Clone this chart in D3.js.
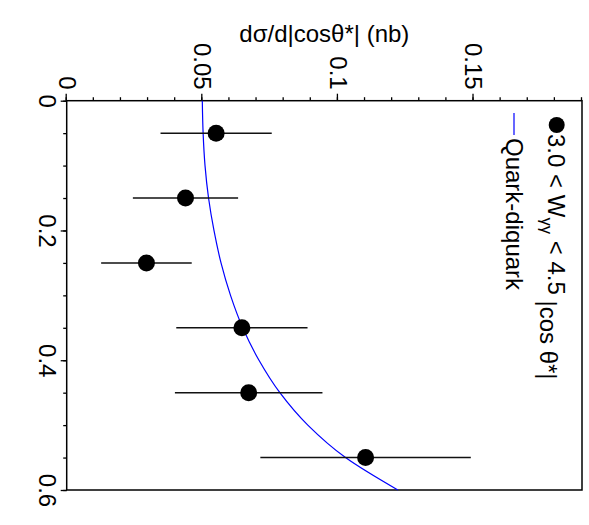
<!DOCTYPE html>
<html>
<head>
<meta charset="utf-8">
<script src="https://cdn.jsdelivr.net/npm/d3@7"></script>
<style>
  body { margin: 0; background: #fff; }
  text { font-family: "Liberation Sans", Arial, sans-serif; }
</style>
</head>
<body>
<div id="chart"></div>
<script>
//************* data ***************/
var cosBins   = [0.05, 0.15, 0.25, 0.35, 0.45, 0.55];
var xsecVals  = [0.0551, 0.0438, 0.0294, 0.0646, 0.0671, 0.1102];
var xsecErrs  = [0.0205, 0.0194, 0.0167, 0.0242, 0.0272, 0.0388];

// quark-diquark curve
var curveCos  = [0, 0.05, 0.1, 0.15, 0.2, 0.25, 0.3, 0.35, 0.4, 0.45, 0.5, 0.55, 0.6];
var curveVals = [0.0500, 0.0503, 0.0510, 0.0523, 0.0543, 0.0569, 0.0604, 0.0649, 0.0709, 0.0786, 0.0889, 0.1028, 0.1221];

var cosTicks  = [0, 0.2, 0.4, 0.6];
var xsecTicks = [0, 0.05, 0.1, 0.15];

//************* set dimensions ***************/
var W = 589, H = 525;
// the whole chart is drawn upright and then turned 90 degrees clockwise
var svg = d3.select("#chart").append("svg")
    .attr("width", W)
    .attr("height", H);

var g = svg.append("g")
    .attr("transform", "translate(" + W + ",0) rotate(90)");

//************* scales ***************/
var x = d3.scaleLinear()   // |cos theta*|
    .domain([0, 0.6])
    .range([100.7, 490]);

var y = d3.scaleLinear()   // dsigma/dcos
    .domain([0, 0.19])
    .range([W - 66.7, W - 582]);

var fs = 24;

//***************** axes *******************/
// minor ticks
g.append("g")
    .attr("transform", "translate(0," + y(0) + ")")
    .call(d3.axisBottom(x).tickValues(d3.range(0, 0.6001, 0.05)).tickSize(3.5).tickFormat(""))
    .call(function(s){ s.select(".domain").remove(); });
g.append("g")
    .attr("transform", "translate(" + x(0) + ",0)")
    .call(d3.axisLeft(y).tickValues(d3.range(0, 0.1901, 0.01)).tickSize(3.5).tickFormat(""))
    .call(function(s){ s.select(".domain").remove(); });

var xAxis = g.append("g")
    .attr("transform", "translate(0," + y(0) + ")")
    .call(d3.axisBottom(x).tickValues(cosTicks).tickSize(6).tickPadding(5)
      .tickFormat(function(d){ return d === 0 ? "0" : d3.format(".1f")(d); }));
xAxis.select(".domain").remove();
xAxis.selectAll("text").attr("font-size", fs).attr("font-family", "Liberation Sans, Arial, sans-serif");

var yAxis = g.append("g")
    .attr("transform", "translate(" + x(0) + ",0)")
    .call(d3.axisLeft(y).tickValues(xsecTicks).tickSize(7).tickPadding(4)
      .tickFormat(function(d){ return d === 0 ? "0" : String(d); }));
yAxis.select(".domain").remove();
yAxis.selectAll("text").attr("font-size", fs).attr("font-family", "Liberation Sans, Arial, sans-serif");

g.selectAll(".tick line").attr("stroke", "#000").attr("stroke-width", 1.3);

// frame
g.append("rect")
    .attr("x", x(0))
    .attr("y", y(0.19))
    .attr("width", x(0.6) - x(0))
    .attr("height", y(0) - y(0.19))
    .attr("fill", "none")
    .attr("stroke", "#000")
    .attr("stroke-width", 1.5);

//***************** curve *******************/
var curveData = curveCos.map(function(c, i){ return {c: c, v: curveVals[i]}; });
g.append("path")
    .datum(curveData)
    .attr("fill", "none")
    .attr("stroke", "#0000ff")
    .attr("stroke-width", 1.2)
    .attr("d", d3.line()
      .x(function(d){ return x(d.c); })
      .y(function(d){ return y(d.v); })
      .curve(d3.curveMonotoneX));

//***************** points *******************/
var pts = cosBins.map(function(c, i){ return {c: c, v: xsecVals[i], e: xsecErrs[i]}; });

g.selectAll(".err")
    .data(pts)
    .enter()
    .append("line")
      .attr("class", "err")
      .attr("x1", function(d){ return x(d.c); })
      .attr("x2", function(d){ return x(d.c); })
      .attr("y1", function(d){ return y(d.v - d.e); })
      .attr("y2", function(d){ return y(d.v + d.e); })
      .attr("stroke", "#111")
      .attr("stroke-width", 1.5);

g.selectAll(".pt")
    .data(pts)
    .enter()
    .append("circle")
      .attr("class", "pt")
      .attr("cx", function(d){ return x(d.c); })
      .attr("cy", function(d){ return y(d.v); })
      .attr("r", 8.5)
      .attr("fill", "#000");

//************* legend ***************/
var legend = g.append("g");
legend.append("circle")
    .attr("cx", 125)
    .attr("cy", W - 556.7)
    .attr("r", 8)
    .attr("fill", "#000");

var t1 = legend.append("text")
    .attr("x", 134)
    .attr("y", W - 556.7)
    .attr("dy", "0.35em")
    .attr("font-size", fs);
t1.append("tspan").text("3.0 < W");
t1.append("tspan").attr("font-size", fs * 0.7).attr("dy", "0.45em").text("γγ");
t1.append("tspan").attr("dy", "-0.3em").text(" < 4.5");

legend.append("line")
    .attr("x1", 113).attr("x2", 135)
    .attr("y1", W - 514).attr("y2", W - 514)
    .attr("stroke", "#0000ff")
    .attr("stroke-width", 1.2);

legend.append("text")
    .attr("x", 138)
    .attr("y", W - 514)
    .attr("dy", "0.35em")
    .attr("font-size", fs)
    .text("Quark-diquark");

//************* axis titles ***************/
svg.append("text")
    .attr("x", (66.7 + 582) / 2)
    .attr("y", 42)
    .attr("text-anchor", "middle")
    .attr("font-size", fs)
    .text("dσ/d|cosθ*| (nb)");

// cos title, turned with the chart
g.append("text")
    .attr("x", 340)
    .attr("y", W - 548)
    .attr("dy", "0.35em")
    .attr("text-anchor", "middle")
    .attr("font-size", fs)
    .text("|cos θ*|");
</script>
</body>
</html>
